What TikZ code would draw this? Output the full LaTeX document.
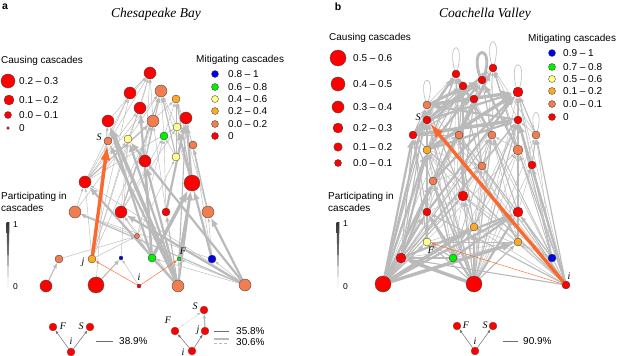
\documentclass[tikz,border=0pt]{standalone}
\usepackage{fontspec}
\setmainfont{Liberation Serif}
\setsansfont{Liberation Sans}
\usetikzlibrary{arrows.meta}
\pgfdeclarelayer{bg}
\pgfdeclarelayer{mid}
\pgfsetlayers{bg,mid,main}
\definecolor{cred}{RGB}{255,0,0}
\definecolor{ccoral}{RGB}{242,125,80}
\definecolor{corange}{RGB}{252,170,40}
\definecolor{cyellow}{RGB}{255,255,140}
\definecolor{cgreen}{RGB}{0,240,0}
\definecolor{cblue}{RGB}{0,0,235}
\definecolor{chl}{RGB}{252,105,45}
\definecolor{egray}{RGB}{186,186,186}
\definecolor{mgray}{RGB}{110,110,110}
\begin{document}
\begin{tikzpicture}[x=1pt,y=-1pt,
  nd/.style={circle,draw=black!75,line width=0.35pt,inner sep=0pt,minimum size=#1},
  e0/.style={draw=egray,line width=0.45pt,-{Latex[length=3.5pt,width=2.6pt]}},
  e1/.style={draw=egray,line width=1.1pt,-{Latex[length=5.5pt,width=4.5pt]}},
  e2/.style={draw=egray,line width=2.2pt,-{Latex[length=9pt,width=7pt]}},
  e3/.style={draw=egray,line width=3.4pt,-{Latex[length=12pt,width=9pt]}},
  hlthick/.style={draw=chl,line width=3.4pt,-{Latex[length=15pt,width=10pt]}},
  hlthin/.style={draw=chl,line width=0.45pt,-{Latex[length=3.5pt,width=2.6pt]}},
  gloop/.style={draw=egray,line width=0.6pt},
  lt/.style={font=\sffamily\fontsize{10}{12}\selectfont,anchor=west,inner sep=0pt},
  lsmall/.style={font=\sffamily\fontsize{8.5}{10}\selectfont,anchor=west,inner sep=0pt},
  nl/.style={font=\itshape\fontsize{10}{12}\selectfont,inner sep=0pt},
  ttl/.style={font=\itshape\fontsize{13.5}{15}\selectfont,inner sep=0pt},
  pl/.style={font=\sffamily\bfseries\fontsize{10.5}{12}\selectfont,inner sep=0pt},
  marr/.style={draw=mgray,line width=0.5pt,-{Latex[length=3.5pt,width=2.6pt]}},
  mn/.style={circle,fill=cred,draw=black!60,line width=0.3pt,inner sep=0pt,minimum size=8pt}
]
\useasboundingbox (0,0) rectangle (630,356);

%================ PANEL A =================
\node[pl] (pa) at (5,7) {a};
\node[ttl] (ta) at (156,14) {Chesapeake Bay};
\node[lt] (cca) at (1,61) {Causing cascades};
\node[nd=14pt,fill=cred] (lca1) at (8,81) {};
\node[nd=10pt,fill=cred] (lca2) at (9,100) {};
\node[nd=7pt,fill=cred] (lca3) at (8,115) {};
\node[nd=3pt,fill=cred] (lca4) at (8,128) {};
\node[lt] at (19,81) {0.2 \textendash{} 0.3};
\node[lt] at (19,100) {0.1 \textendash{} 0.2};
\node[lt] at (19,115) {0.0 \textendash{} 0.1};
\node[lt] at (19,128) {0};
\node[lt] (mca) at (196,60) {Mitigating cascades};
\foreach \c/\t/\y in {cblue/0.8 \textendash{} 1/74, cgreen/0.6 \textendash{} 0.8/87, cyellow/0.4 \textendash{} 0.6/99, corange/0.2 \textendash{} 0.4/111, ccoral/0.0 \textendash{} 0.2/124, cred/0/136}{
  \node[nd=7pt,fill=\c] at (215,\y) {};
  \node[lt] at (228,\y) {\t};
}
\node[lt] (pca) at (1,197) {Participating in};
\node[lt] (pcb) at (1,208) {cascades};
\shade[top color=black!80,bottom color=black!25] (6.5,222) -- (9.5,222) -- (8,288) -- cycle;
\node[lsmall] at (13,225) {1};
\node[lsmall] at (13,287) {0};

% nodes
\node[nd=12pt,fill=cred] (a1) at (150,73) {};
\node[nd=12pt,fill=ccoral] (a2) at (161,91) {};
\node[nd=12pt,fill=cred] (a3) at (130,93) {};
\node[nd=8pt,fill=corange] (a4) at (176,99) {};
\node[nd=12pt,fill=cred] (a5) at (140,108) {};
\node[nd=12pt,fill=ccoral] (a6) at (153,121) {};
\node[nd=12pt,fill=cred] (a7) at (186,118) {};
\node[nd=12pt,fill=cred] (a8) at (108,121) {};
\node[nd=8pt,fill=cyellow] (a9) at (177,127) {};
\node[nd=8pt,fill=cgreen] (a10) at (164,136) {};
\node[nd=8pt,fill=cyellow] (a11) at (128,139) {};
\node[nd=8pt,fill=ccoral] (aS) at (108,141) {};
\node[nd=8pt,fill=ccoral] (a13) at (193,145) {};
\node[nd=12pt,fill=cred] (a14) at (145,161) {};
\node[nd=8pt,fill=cyellow] (a15) at (176,157) {};
\node[nd=12pt,fill=cred] (a16) at (85,182) {};
\node[nd=16pt,fill=cred] (a17) at (192,183) {};
\node[nd=12pt,fill=ccoral] (a18) at (75,212) {};
\node[nd=12pt,fill=cred] (a19) at (121,212) {};
\node[nd=8pt,fill=cred] (a20) at (166,212) {};
\node[nd=12pt,fill=ccoral] (a21) at (208,212) {};
\node[nd=5pt,fill=ccoral] (a22) at (137,236) {};
\node[nd=8pt,fill=ccoral] (a23) at (59,259) {};
\node[nd=8pt,fill=corange] (aj) at (92,259) {};
\node[nd=4pt,fill=cblue] (a25) at (121,258) {};
\node[nd=8pt,fill=cgreen] (a26) at (152,258) {};
\node[nd=4pt,fill=cgreen] (aF) at (179,259) {};
\node[nd=8pt,fill=cblue] (a28) at (212,259) {};
\node[nd=12pt,fill=cred] (a29) at (46,286) {};
\node[nd=16pt,fill=cred] (a30) at (96,285) {};
\node[nd=4pt,fill=cred] (ai) at (139,286) {};
\node[nd=12pt,fill=ccoral] (a32) at (178,286) {};
\node[nd=12pt,fill=ccoral] (a33) at (245,285) {};
\node[nl] (laS) at (99,137) {S};
\node[nl] (laj) at (83,262) {j};
\node[nl] (laF) at (183,251) {F};
\node[nl] (lai) at (139,277) {i};

\begin{pgfonlayer}{bg}
\foreach \s/\t in {a23/a22, ai/a25, aj/a16, aj/a8, aj/a3, aj/a1, aj/a11, aj/a22, a33/a14, a33/a16, a33/a28, a33/a26, a33/aF, a32/a19, a32/a26, a32/aF, a28/a21, a28/a13, a28/a18, a21/a7, a19/a11, a19/a6, a22/a18, a22/a10, a14/a5, a14/a6, a14/a1, a16/a1, a16/a2, a16/a5, a16/a3, a16/a4, a16/a9, a15/a4, a15/a10, a10/a4, a10/a2, a11/a5, a11/a2, a9/a2, aS/a3, a17/a2, a26/a19, a26/a22, a30/a8, a25/a11, a20/a10, a13/a4, a8/a1, a18/a16, a6/a1, a5/a1, a3/a1, a19/a9, a20/a6, a18/a11, a21/a4, a22/a15, a19/a10, aj/a6}
  \draw[e0] (\s) -- (\t);
\foreach \s/\t in {a29/a23, a30/a25, a33/a18, aF/a7, a21/a13, a17/a4, a15/a2, a32/a20, a19/a2, a28/a9, a16/a6, a14/a2}
  \draw[e1] (\s) -- (\t);
\foreach \s/\t in {a33/a21, a32/a17, a32/a14, a32/aS, a26/a8, aF/a17, a17/a7, a32/a11, a20/a7, a26/a5, a33/a19, a32/a16, a26/a14, a17/a9, a28/a17, a33/a11}
  \draw[e2] (\s) -- (\t);
\draw[e3] (a26) -- (a17);
\draw[e3] (a32) -- (a8);
\end{pgfonlayer}
\begin{pgfonlayer}{mid}
\draw[hlthick] (aj) -- (aS);
\draw[hlthin] (ai) -- (aj);
\draw[hlthin] (ai) -- (aF);
\end{pgfonlayer}

% motifs a
\node[mn] (m1F) at (53,327) {};
\node[mn] (m1S) at (90,327) {};
\node[mn] (m1i) at (71,352) {};
\node[nl] at (63,326) {F};
\node[nl] at (81,326) {S};
\node[nl] at (71,341) {i};
\draw[marr] (m1i) -- (m1F);
\draw[marr] (m1i) -- (m1S);
\coordinate (k1a) at (96,341);
\coordinate (k1b) at (113,341);
\draw[mgray,line width=0.8pt] (k1a) -- (k1b);
\node[lt] at (119,341) {38.9\%};

\node[mn] (m2S) at (204,310) {};
\node[mn] (m2j) at (205,331) {};
\node[mn] (m2F) at (175,331) {};
\node[mn] (m2i) at (192,351) {};
\node[nl] at (195,306) {S};
\node[nl] at (198,330) {j};
\node[nl] at (168,320) {F};
\node[nl] at (183,352) {i};
\draw[marr] (m2i) -- (m2F);
\draw[marr] (m2i) -- (m2j);
\draw[draw=egray,line width=1.4pt,-{Latex[length=4pt,width=3.5pt]}] (m2j) -- (m2S);
\draw[draw=egray,line width=0.6pt,densely dotted,-{Latex[length=3.5pt,width=2.6pt]}] (m2F) -- (m2S);
\coordinate (k2a) at (214,331);
\coordinate (k2b) at (229,331);
\draw[mgray,line width=0.8pt] (k2a) -- (k2b);
\node[lt] at (236,331) {35.8\%};
\coordinate (k3a) at (214,339);
\coordinate (k3b) at (229,339);
\draw[egray,line width=1.4pt] (k3a) -- (k3b);
\coordinate (k4a) at (214,343.5);
\coordinate (k4b) at (229,343.5);
\draw[egray,line width=0.6pt,densely dashed] (k4a) -- (k4b);
\node[lt] at (236,342) {30.6\%};

%================ PANEL B =================
\node[pl] (pb) at (338,7) {b};
\node[ttl] (tb) at (485,14) {Coachella Valley};
\node[lt] (ccb) at (329,38) {Causing cascades};
\foreach \d/\t/\y in {16pt/0.5 \textendash{} 0.6/58, 14pt/0.4 \textendash{} 0.5/84, 12pt/0.3 \textendash{} 0.4/107, 10pt/0.2 \textendash{} 0.3/128, 8.5pt/0.1 \textendash{} 0.2/147, 7pt/0.0 \textendash{} 0.1/163}{
  \node[nd=\d,fill=cred] at (338,\y) {};
  \node[lt] at (353,\y) {\t};
}
\node[lt] (mcb) at (528,39) {Mitigating cascades};
\foreach \c/\t/\y in {cblue/0.9 \textendash{} 1/53, cgreen/0.7 \textendash{} 0.8/67, cyellow/0.5 \textendash{} 0.6/79, corange/0.1 \textendash{} 0.2/91, ccoral/0.0 \textendash{} 0.1/104, cred/0/117}{
  \node[nd=7pt,fill=\c] at (552,\y) {};
  \node[lt] at (563,\y) {\t};
}
\node[lt] (pcc) at (328,197) {Participating in};
\node[lt] (pcd) at (328,208) {cascades};
\shade[top color=black!80,bottom color=black!25] (336.5,222) -- (339.5,222) -- (338,288) -- cycle;
\node[lsmall] at (343,224) {1};
\node[lsmall] at (343,287) {0};

\node[nd=8pt,fill=cred] (b1) at (456,74) {};
\node[nd=8pt,fill=cred] (b2) at (493,68) {};
\node[nd=8pt,fill=cred] (b3) at (463,86) {};
\node[nd=8pt,fill=cred] (b4) at (482,80) {};
\node[nd=8pt,fill=cred] (b5) at (474,99) {};
\node[nd=10pt,fill=cred] (b6) at (518,92) {};
\node[nd=8pt,fill=ccoral] (b7) at (427,105) {};
\node[nd=8pt,fill=cred] (bS) at (427,120) {};
\node[nd=8pt,fill=cred] (b9) at (413,135) {};
\node[nd=8pt,fill=ccoral] (b10) at (459,135) {};
\node[nd=8pt,fill=ccoral] (b11) at (492,135) {};
\node[nd=8pt,fill=cred] (b12) at (518,120) {};
\node[nd=8pt,fill=ccoral] (b13) at (536,135) {};
\node[nd=8pt,fill=corange] (b14) at (427,150) {};
\node[nd=10pt,fill=ccoral] (b15) at (518,150) {};
\node[nd=8pt,fill=ccoral] (b16) at (482,166) {};
\node[nd=8pt,fill=cred] (b17) at (532,165) {};
\node[nd=8pt,fill=ccoral] (b18) at (433,181) {};
\node[nd=10pt,fill=cred] (b19) at (463,196) {};
\node[nd=8pt,fill=cred] (b20) at (427,212) {};
\node[nd=10pt,fill=cred] (b21) at (518,212) {};
\node[nd=8pt,fill=corange] (b22) at (474,227) {};
\node[nd=8pt,fill=cyellow] (bF) at (427,242) {};
\node[nd=8pt,fill=corange] (b24) at (518,242) {};
\node[nd=10pt,fill=cred] (b25) at (401,258) {};
\node[nd=8pt,fill=cgreen] (b26) at (453,258) {};
\node[nd=8pt,fill=cblue] (b27) at (552,258) {};
\node[nd=16pt,fill=cred] (b28) at (383,284) {};
\node[nd=16pt,fill=cred] (b29) at (474,284) {};
\node[nd=8pt,fill=cred] (bi) at (566,285) {};
\node[nl] (lbS) at (418,117) {S};
\node[nl] (lbF) at (431,250) {F};
\node[nl] (lbi) at (569,276) {i};

\begin{pgfonlayer}{bg}
\draw[gloop] (b1.110) .. controls +(-8pt,30pt) and +(8pt,30pt) .. (b1.70);
\draw[gloop] (b2.110) .. controls +(-8pt,30pt) and +(8pt,30pt) .. (b2.70);
\draw[gloop] (b6.110) .. controls +(-8pt,30pt) and +(8pt,30pt) .. (b6.70);
\draw[gloop] (b7.110) .. controls +(-8pt,28pt) and +(8pt,28pt) .. (b7.70);
\draw[gloop] (b13.110) .. controls +(-7pt,25pt) and +(7pt,25pt) .. (b13.70);
\draw[draw=egray,line width=2.8pt] (b4.120) .. controls +(-11pt,32pt) and +(11pt,32pt) .. (b4.60);
\foreach \s/\t in {bi/b24, bi/b22, bi/b19, bi/b16, bi/b11, bi/b10, bi/b6, bi/b2, b27/b24, b27/b22, b27/b19, b27/b17, b27/b15, b27/b13, b27/b11, b26/b24, b26/b19, b26/b16, b26/b14, b26/b10, b26/b7, b26/b12, b29/b17, b29/b16, b29/b15, b29/b13, b29/b10, b29/b7, b28/b16, b28/b15, b28/b10, b28/b5, b28/b3, b28/b1, b25/b20, b25/b19, b25/b10, b25/b22, b25/b24, b24/b21, b24/b15, b24/b16, b24/b11, b24/b19, b22/b16, b22/b14, b22/b11, b22/b15, b20/b18, b20/b14, b20/b10, b19/b16, b19/b14, b19/b11, b18/b10, b18/b5, b18/b14, b16/b10, b16/b11, b16/b12, b15/b12, b15/b11, b17/b12, b17/b6, b14/b10, b14/bS, b9/bS, b10/b5, b11/b5, b11/b2, b12/b2, b13/b12, b13/b2, b10/b1, bS/b1, bS/b5, b7/b1, b5/b2, b3/b1, bF/b20, bF/b18, bF/b22, bF/b24, b21/b12, b21/b16, b21/b17, bi/b7, bi/b1, b27/b6, b27/b2, b29/b6, b29/b2, b28/b6, b28/b2, b26/b1, b27/b10, b27/b16, b26/b11, b25/b16, b20/b19, b18/b16, b14/b16, b9/b10}
  \draw[e0] (\s) -- (\t);
\foreach \s/\t in {b28/b22, b28/b19, b28/bF, b26/bF, b26/b25, b26/b22, b26/b18, b29/b24, b29/b19, b29/b14, bi/b21, bi/b17, bi/b15, bi/b13, b27/b21, b27/b12, b21/b15, b21/b11, b24/b10, b22/b19, b22/b10, b19/b7, b19/b5, b20/bS, b20/b9, bF/b14, bF/b9, b16/b5, b15/b6, b10/b3, b11/b4, b12/b6, b17/b13, b13/b6, b18/b3, b9/b5, b14/b3, bS/b4, b10/b4, b29/bF, b29/b18, bi/b25, bi/b20, bi/b9, b26/b20, b29/b9, b29/bS, b28/bS, b28/b12, b28/b11, b25/b7, b25/b9, b24/b12, b22/b12, b19/b3, b19/b1, b16/b1, b15/b2, b14/b1, b9/b7, b7/b3, bS/b3, b29/b12, b29/b11}
  \draw[e1] (\s) -- (\t);
\foreach \s/\t in {b28/b20, b29/b22, b29/b20, b28/b7, b28/b9, b25/b18, b14/b4, b18/b2, b29/b21, b28/b18, bS/b6, b7/b4, b9/b1, b25/b14, b28/b21, bi/b12, b20/b6, b18/b6, b14/b12, bS/b2, b9/b4, b12/b7, b10/b2, b11/b1, b15/b4, b28/b14, b26/b21, b25/b21}
  \draw[e2] (\s) -- (\t);
\foreach \s/\t in {b28/b24, b29/b25, b7/b6, b9/b12, b28/b22, b14/b6}
  \draw[e3] (\s) -- (\t);
\end{pgfonlayer}
\begin{pgfonlayer}{mid}
\draw[hlthick] (bi) -- (bS);
\draw[hlthin] (bi) -- (bF);
\end{pgfonlayer}

% motif b
\node[mn] (m3F) at (457,326) {};
\node[mn] (m3S) at (493,326) {};
\node[mn] (m3i) at (475,351) {};
\node[nl] at (466,325) {F};
\node[nl] at (485,325) {S};
\node[nl] at (475,341) {i};
\draw[marr] (m3i) -- (m3F);
\draw[marr] (m3i) -- (m3S);
\coordinate (k5a) at (503,341);
\coordinate (k5b) at (518,341);
\draw[mgray,line width=0.8pt] (k5a) -- (k5b);
\node[lt] at (523,341) {90.9\%};
\end{tikzpicture}
\end{document}
